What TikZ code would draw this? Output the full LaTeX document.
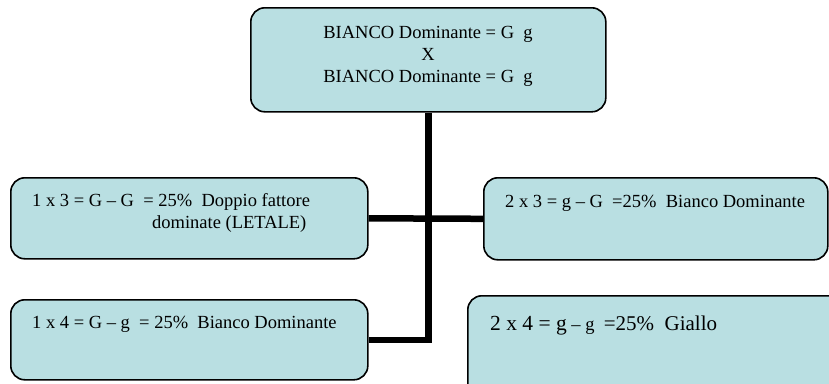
\documentclass[tikz,border=0pt]{standalone}
\usepackage{fontspec}
\setmainfont{Liberation Serif}
\definecolor{boxfill}{RGB}{185,223,226}

\begin{document}
\begin{tikzpicture}[x=1pt, y=-1pt,
			box/.style={draw=black, line width=1.6pt, fill=boxfill, rounded corners=14pt, anchor=north west, inner sep=0pt},
			txt/.style={font=\fontsize{18.5}{22}\selectfont, inner sep=0pt, anchor=base west, align=left},
			conn/.style={line width=6.5pt}]

		\useasboundingbox (0,0) rectangle (829,383);
		\clip (0,0) rectangle (829,383);

		\node[box, minimum width=355pt, minimum height=104pt] (cross) at (250,7) {};
		\node[box, minimum width=357pt, minimum height=81pt] (gg) at (10,177) {};
		\node[box, minimum width=344pt, minimum height=82pt] (gG) at (483,177) {};
		\node[box, minimum width=357pt, minimum height=80pt] (Gg) at (10,299) {};
		\node[box, minimum width=400pt, minimum height=120pt] (yellow) at (467,295) {};

		\draw[conn] (cross.south) -- (cross.south |- Gg.east) -- (Gg.east);
		\draw[conn] (gg.east) -- (gG.west);

		% multi-line nodes: base is the last line
		\node[txt, align=center, anchor=base] (crosstxt) at (428,82.5) {BIANCO Dominante = G~ g\\X\\BIANCO Dominante = G~ g};
		\node[txt] (ggtxt) at (32,228) {1 x 3 = G -- G~ = 25\%~ Doppio fattore\\\hspace*{120pt}dominate (LETALE)};
		\node[txt] (gGtxt) at (505,207) {2 x 3 = g -- G~ =25\%~ Bianco Dominante};
		\node[txt] (Ggtxt) at (32,328) {1 x 4 = G -- g~ = 25\%~ Bianco Dominante};
		\node[txt] (yellowtxt) at (490,330) {{\fontsize{21.5}{24}\selectfont 2 x 4 = g} -- g~ {\fontsize{21}{24}\selectfont =25\%~ Giallo}};
	\end{tikzpicture}
\end{document}
